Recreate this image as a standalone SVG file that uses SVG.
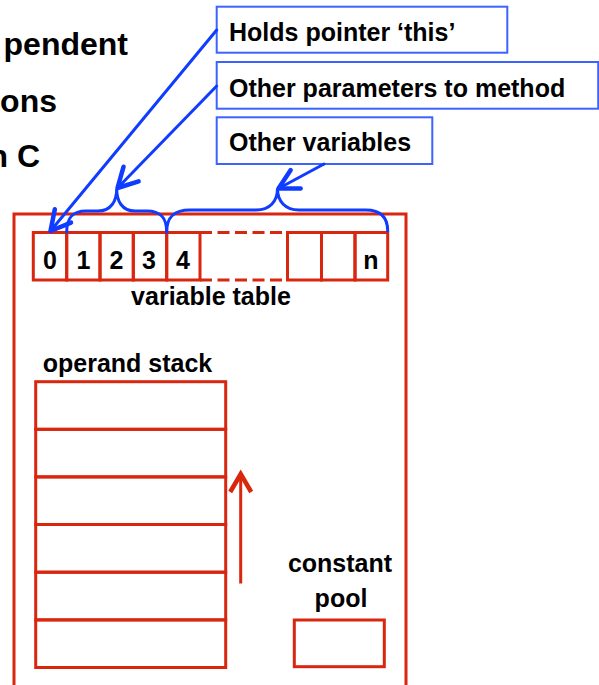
<svg xmlns="http://www.w3.org/2000/svg" width="599" height="685" viewBox="0 0 599 685">
<defs>
<style>
text{font-family:"Liberation Sans",Arial,sans-serif;font-weight:bold;fill:#000}
.t{font-size:25px}
.big{font-size:32px}
.red{fill:none;stroke:#d8260f;stroke-width:3}
.dash{fill:none;stroke:#d8260f;stroke-width:3;stroke-dasharray:12 5.5}
.lbl{fill:#fff;stroke:#3d63ff;stroke-width:2}
.blue{fill:none;stroke:#0f3cff;stroke-width:3;stroke-linecap:round}
</style>
<marker id="ab" markerUnits="userSpaceOnUse" markerWidth="30" markerHeight="30" refX="0" refY="0" viewBox="-16 -10 20 20" orient="auto">
<path d="M -13 -7 L 0 0 L -13 7" fill="none" stroke="#0f3cff" stroke-width="3" stroke-linecap="round" stroke-linejoin="round"/>
</marker>
<marker id="ar" markerUnits="userSpaceOnUse" markerWidth="30" markerHeight="30" refX="0" refY="0" viewBox="-16 -10 20 20" orient="auto">
<path d="M -12 -7 L 0 0 L -12 7" fill="none" stroke="#d8260f" stroke-width="3" stroke-linejoin="miter"/>
</marker>
</defs>
<rect width="599" height="685" fill="#fff"/>

<g id="title">
<text class="big" x="128" y="55" text-anchor="end">pendent</text>
<text class="big" x="57" y="111.5" text-anchor="end">ons</text>
<text class="big" x="40" y="166.5" text-anchor="end">n C</text>
</g>

<g id="frame">
<rect class="red" x="14" y="214" width="392" height="490"/>
</g>

<g id="variable-table">
<rect class="red" x="33.3" y="232.5" width="33.4" height="47.5"/>
<rect class="red" x="66.7" y="232.5" width="33.3" height="47.5"/>
<rect class="red" x="100" y="232.5" width="33.3" height="47.5"/>
<rect class="red" x="133.3" y="232.5" width="33.4" height="47.5"/>
<rect class="red" x="166.7" y="232.5" width="33.3" height="47.5"/>
<path class="dash" d="M 200 232.5 H 287.5 M 200 280 H 287.5"/>
<rect class="red" x="287.5" y="232.5" width="34" height="47.5"/>
<rect class="red" x="321.5" y="232.5" width="33.5" height="47.5"/>
<rect class="red" x="355" y="232.5" width="32.7" height="47.5"/>
<text class="t" x="50" y="268.5" text-anchor="middle">0</text>
<text class="t" x="83.5" y="268.5" text-anchor="middle">1</text>
<text class="t" x="116.5" y="268.5" text-anchor="middle">2</text>
<text class="t" x="149" y="268.5" text-anchor="middle">3</text>
<text class="t" x="183" y="268.5" text-anchor="middle">4</text>
<text class="t" x="371" y="268.5" text-anchor="middle">n</text>
<text class="t" x="211" y="305" text-anchor="middle">variable table</text>
</g>

<g id="operand-stack">
<text class="t" x="127.5" y="371.5" text-anchor="middle">operand stack</text>
<rect class="red" x="35.7" y="381.7" width="190" height="47.6"/>
<rect class="red" x="35.7" y="429.3" width="190" height="47.6"/>
<rect class="red" x="35.7" y="476.9" width="190" height="47.6"/>
<rect class="red" x="35.7" y="524.5" width="190" height="47.7"/>
<rect class="red" x="35.7" y="572.2" width="190" height="47.7"/>
<rect class="red" x="35.7" y="619.9" width="190" height="47.6"/>
</g>

<g id="constant-pool">
<text class="t" x="340" y="571.5" text-anchor="middle">constant</text>
<text class="t" x="341" y="606.5" text-anchor="middle">pool</text>
<rect class="red" x="294.3" y="620" width="90" height="46.7"/>
</g>

<g id="label-this">
<rect class="lbl" x="216.7" y="6.7" width="290.6" height="46"/>
<text class="t" x="229" y="40.5">Holds pointer ‘this’</text>
</g>
<g id="label-params">
<rect class="lbl" x="216.7" y="62" width="381.5" height="46.7"/>
<text class="t" x="229" y="96.5">Other parameters to method</text>
</g>
<g id="label-vars">
<rect class="lbl" x="216.7" y="117.3" width="215.6" height="46.7"/>
<text class="t" x="229" y="150.5">Other variables</text>
</g>

<g id="connectors">
<path class="blue" d="M 66.7 232 C 66.7 218 72 211 86 211 L 98 211 C 111 211 116.7 201 116.7 189 C 116.7 201 122 211 135 211 L 147 211 C 161 211 166.7 218 166.7 232"/>
<path class="blue" d="M 166.7 232 C 166.7 218 173 210 190 210 L 256 210 C 270 210 277.5 201 277.5 188.5 C 277.5 201 285 210 299 210 L 366 210 C 380 210 387.7 217 387.7 231"/>
<line class="blue" x1="216.7" y1="30" x2="50.5" y2="231" marker-end="url(#ab)"/>
<line class="blue" x1="216.7" y1="86" x2="117.5" y2="188" marker-end="url(#ab)"/>
<line class="blue" x1="324" y1="164" x2="278.5" y2="188.5" marker-end="url(#ab)"/>
<line class="red" x1="240.7" y1="583.5" x2="240.7" y2="474" marker-end="url(#ar)"/>
</g>
</svg>
